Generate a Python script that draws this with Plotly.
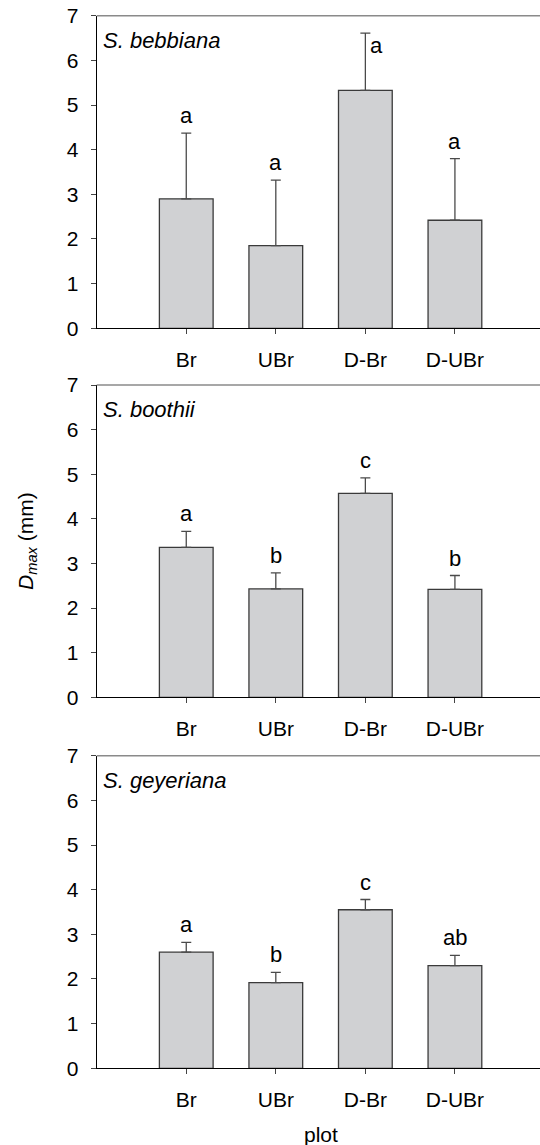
import plotly.graph_objects as go

categories = ["Br", "UBr", "D-Br", "D-UBr"]
species = ["S. bebbiana", "S. boothii", "S. geyeriana"]

bebbiana_mean = [2.90, 1.85, 5.33, 2.42]
bebbiana_se = [1.47, 1.47, 1.28, 1.38]
bebbiana_letters = ["a", "a", "a", "a"]

boothii_mean = [3.36, 2.43, 4.57, 2.42]
boothii_se = [0.36, 0.36, 0.35, 0.31]
boothii_letters = ["a", "b", "c", "b"]

geyeriana_mean = [2.60, 1.92, 3.55, 2.30]
geyeriana_se = [0.22, 0.23, 0.23, 0.23]
geyeriana_letters = ["a", "b", "c", "ab"]

y_ticks = [0, 1, 2, 3, 4, 5, 6, 7]

means = [bebbiana_mean, boothii_mean, geyeriana_mean]
ses = [bebbiana_se, boothii_se, geyeriana_se]
letters = [bebbiana_letters, boothii_letters, geyeriana_letters]

W, H = 540, 1145
FONT = "Liberation Sans, Arial, Helvetica, sans-serif"
# panel pixel extents (top, bottom)
panels_px = [(15.7, 328.3), (385.0, 697.3), (755.7, 1068.3)]
x_left_px = 96.7

fig = go.Figure()
layout = dict(
    width=W, height=H, autosize=False,
    margin=dict(l=0, r=0, t=0, b=0),
    paper_bgcolor="white", plot_bgcolor="white",
    showlegend=False,
    font=dict(family=FONT, size=21, color="black"),
    bargap=0.4,
)
annotations = []
shapes = []

for i in range(3):
    xa = "x" if i == 0 else f"x{i+1}"
    ya = "y" if i == 0 else f"y{i+1}"
    fig.add_trace(go.Bar(
        x=categories, y=means[i],
        xaxis=xa, yaxis=ya,
        width=0.6,
        marker=dict(color="#d0d1d3", line=dict(color="#3a3a3a", width=1.3)),
        error_y=dict(type="data", symmetric=False, array=ses[i],
                     arrayminus=[0] * len(ses[i]),
                     color="#4a4a4a", thickness=1.3, width=5),
        hoverinfo="skip",
    ))
    top, bot = panels_px[i]
    dom_y = [1 - bot / H, 1 - top / H]
    xkey = "xaxis" if i == 0 else f"xaxis{i+1}"
    ykey = "yaxis" if i == 0 else f"yaxis{i+1}"
    layout[xkey] = dict(
        domain=[x_left_px / W, 1], anchor=ya,
        type="category", categoryorder="array", categoryarray=categories,
        range=[-1, 3.95],
        showline=True, linecolor="black", linewidth=1.3,
        ticks="outside", ticklen=5, tickwidth=1.3, tickcolor="#444",
        showgrid=False, zeroline=False,
        tickfont=dict(family=FONT, size=21, color="black"),
        ticklabelstandoff=7,
        automargin=False,
    )
    layout[ykey] = dict(
        domain=dom_y, anchor=xa,
        range=[0, 7], tickvals=y_ticks,
        showline=True, linecolor="black", linewidth=1.3,
        ticks="outside", ticklen=5, tickwidth=1.3, tickcolor="#444",
        showgrid=False, zeroline=False,
        tickfont=dict(family=FONT, size=21, color="black"),
        ticklabelstandoff=8,
        automargin=False,
    )
    # top frame line (gray)
    shapes.append(dict(type="line", xref=f"{xa} domain", yref=f"{ya} domain",
                       x0=0, x1=1, y0=1, y1=1,
                       line=dict(color="#8a8a8a", width=1.6)))
    # species label
    annotations.append(dict(
        text=f"<i>{species[i]}</i>", xref=f"{xa} domain", yref=f"{ya} domain",
        x=(101 - x_left_px) / (W - x_left_px), y=1 - 24.5 / (bot - top),
        xanchor="left", yanchor="middle", showarrow=False,
        font=dict(family=FONT, size=22, color="black"),
    ))
    # significance letters
    for c, m, s, L in zip(categories, means[i], ses[i], letters[i]):
        tip = m + s
        if tip > 6.2:
            annotations.append(dict(
                text=L, xref=xa, yref=ya, x=c, y=tip,
                xanchor="left", yanchor="top", xshift=3, yshift=2,
                showarrow=False, font=dict(family=FONT, size=22, color="black"),
            ))
        else:
            annotations.append(dict(
                text=L, xref=xa, yref=ya, x=c, y=tip,
                xanchor="center", yanchor="bottom", yshift=3,
                showarrow=False, font=dict(family=FONT, size=22, color="black"),
            ))

# y-axis title
annotations.append(dict(
    text="<i>D<sub>max</sub></i> (mm)", xref="paper", yref="paper",
    x=27 / W, y=1 - 541 / H, textangle=-90,
    xanchor="center", yanchor="middle", showarrow=False,
    font=dict(family=FONT, size=21, color="black"),
))
# x-axis title
annotations.append(dict(
    text="plot", xref="paper", yref="paper",
    x=320.5 / W, y=1 - 1134 / H,
    xanchor="center", yanchor="middle", showarrow=False,
    font=dict(family=FONT, size=21, color="black"),
))

layout["annotations"] = annotations
layout["shapes"] = shapes
fig.update_layout(**layout)
fig.write_html("out.html")
